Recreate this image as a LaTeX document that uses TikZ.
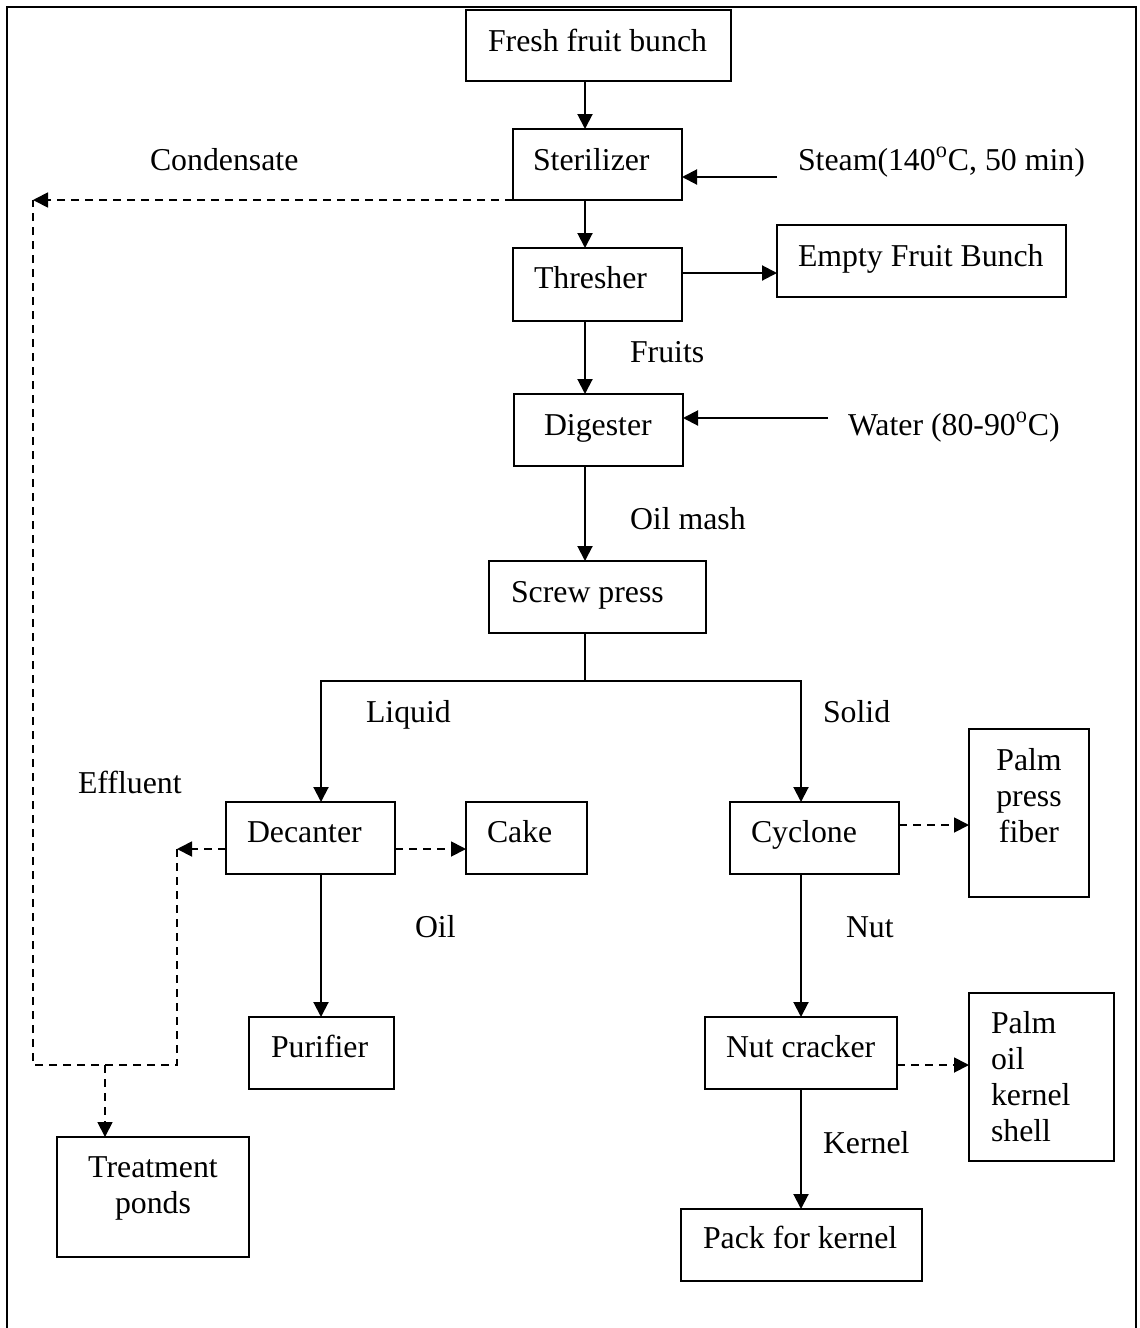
\documentclass[tikz,border=0pt]{standalone}
\usepackage{fontspec}
\setmainfont{Liberation Serif}
\usetikzlibrary{arrows.meta}
\begin{document}
\begin{tikzpicture}[x=0.5pt,y=-0.5pt,
  box/.style={draw, line width=0.75pt, inner sep=0pt, outer sep=0pt, anchor=north west},
  txt/.style={inner sep=0pt, outer sep=0pt, anchor=base west, font=\fontsize{15.9}{18}\selectfont},
  ctxt/.style={txt, anchor=base},
  arr/.style={line width=1pt, -{Triangle[length=7.5pt,width=7.5pt]}},
  darr/.style={line width=0.9pt, dash pattern=on 4pt off 3pt, -{Triangle[length=7.5pt,width=7.5pt]}},
  lp/.style={line width=0.7pt, dash pattern=on 4pt off 3pt},
  plain/.style={line width=1pt}]
\useasboundingbox (0,0) rectangle (1140,1328);
\draw[line width=0.8pt] (7,1328) -- (7,7) -- (1136,7) -- (1136,1328);

% boxes
\node[box, minimum width=132.5pt, minimum height=35.5pt] (ffb) at (466,10) {};
\node[box, minimum width=84.5pt, minimum height=35.5pt] (ster) at (513,129) {};
\node[box, minimum width=84.5pt, minimum height=36.5pt] (thr) at (513,248) {};
\node[box, minimum width=144.5pt, minimum height=36pt] (efb) at (777,225) {};
\node[box, minimum width=84.5pt, minimum height=36pt] (dig) at (514,394) {};
\node[box, minimum width=108.5pt, minimum height=36pt] (sp) at (489,561) {};
\node[box, minimum width=84.5pt, minimum height=36pt] (dec) at (226,802) {};
\node[box, minimum width=60.5pt, minimum height=36pt] (cake) at (466,802) {};
\node[box, minimum width=84.5pt, minimum height=36pt] (cyc) at (730,802) {};
\node[box, minimum width=60pt, minimum height=84pt] (ppf) at (969,729) {};
\node[box, minimum width=72.5pt, minimum height=36pt] (pur) at (249,1017) {};
\node[box, minimum width=96pt, minimum height=60pt] (tp) at (57,1137) {};
\node[box, minimum width=96pt, minimum height=36pt] (nc) at (705,1017) {};
\node[box, minimum width=72.5pt, minimum height=84pt] (pks) at (969,993) {};
\node[box, minimum width=120.5pt, minimum height=36pt] (pack) at (681,1209) {};

% texts
\node[txt] (tffb) at (488,51) {Fresh fruit bunch};
\node[txt] (tster) at (533,170) {Sterilizer};
\node[txt] (tcond) at (150,170) {Condensate};
\node[txt] (tsteam) at (798,170) {Steam(140\textsuperscript{o}C, 50 min)};
\node[txt] (tthr) at (534,288) {Thresher};
\node[txt] (tefb) at (798,266) {Empty Fruit Bunch};
\node[txt] (tfruits) at (630,362) {Fruits};
\node[txt] (tdig) at (544,435) {Digester};
\node[txt] (twater) at (848,435) {Water (80-90\textsuperscript{o}C)};
\node[txt] (toilmash) at (630,529) {Oil mash};
\node[txt] (tsp) at (511,602) {Screw press};
\node[txt] (tliq) at (366,722) {Liquid};
\node[txt] (tsol) at (823,722) {Solid};
\node[txt] (teff) at (78,793) {Effluent};
\node[txt] (tdec) at (247,842) {Decanter};
\node[txt] (tcake) at (487,842) {Cake};
\node[txt] (toil) at (415,937) {Oil};
\node[txt] (tcyc) at (751,842) {Cyclone};
\node[ctxt] (tppf) at (1029,770) {\begin{tabular}[t]{@{}c@{}}Palm\\press\\fiber\end{tabular}};
\node[txt] (tnut) at (846,937) {Nut};
\node[txt] (tpur) at (271,1057) {Purifier};
\node[ctxt] (ttp) at (153,1177) {\begin{tabular}[t]{@{}c@{}}Treatment\\ponds\end{tabular}};
\node[txt] (tnc) at (726,1057) {Nut cracker};
\node[txt] (tpks) at (991,1033) {\begin{tabular}[t]{@{}l@{}}Palm\\oil\\kernel\\shell\end{tabular}};
\node[txt] (tkern) at (823,1153) {Kernel};
\node[txt] (tpack) at (703,1248) {Pack for kernel};

% helper coordinates
\coordinate (colA) at (585,0);
\coordinate (colL) at (321,0);
\coordinate (colR) at (801,0);
\coordinate (steamS) at (777,177);
\coordinate (waterS) at (828,418);
\coordinate (efbY) at (0,273);
\coordinate (split) at (585,681);
\coordinate (decY) at (0,849);
\coordinate (effC) at (177,849);
\coordinate (loopBR) at (177,1065);
\coordinate (loopBL) at (33,1065);
\coordinate (condC) at (33,200);
\coordinate (tpTop) at (105,1065);
\coordinate (ppfY) at (0,825);
\coordinate (pksY) at (0,1065);

% main line
\draw[arr] (ffb.south -| colA) -- (ster.north -| colA);
\draw[arr] (ster.south -| colA) -- (thr.north -| colA);
\draw[arr] (thr.south -| colA) -- (dig.north -| colA);
\draw[arr] (dig.south -| colA) -- (sp.north -| colA);
\draw[arr] (steamS) -- (steamS -| ster.east);
\draw[arr] (thr.east |- efbY) -- (efb.west |- efbY);
\draw[arr] (waterS) -- (waterS -| dig.east);
\draw[plain] (sp.south -| colA) -- (split);
\draw[arr] (split) -| (dec.north -| colL);
\draw[arr] (split) -| (cyc.north -| colR);
\draw[arr] (dec.south -| colL) -- (pur.north -| colL);
\draw[arr] (cyc.south -| colR) -- (nc.north -| colR);
\draw[arr] (nc.south -| colR) -- (pack.north -| colR);

% dashed flows
\draw[darr] (ster.south west) -- (condC);
\draw[darr] (dec.east |- decY) -- (cake.west |- decY);
\draw[darr] (dec.west |- decY) -- (effC);
\draw[lp] (effC) -- (loopBR) -- (loopBL) -- (condC);
\draw[darr] (tpTop) -- (tpTop |- tp.north);
\draw[darr] (cyc.east |- ppfY) -- (ppf.west |- ppfY);
\draw[darr] (nc.east |- pksY) -- (pks.west |- pksY);
\end{tikzpicture}
\end{document}
